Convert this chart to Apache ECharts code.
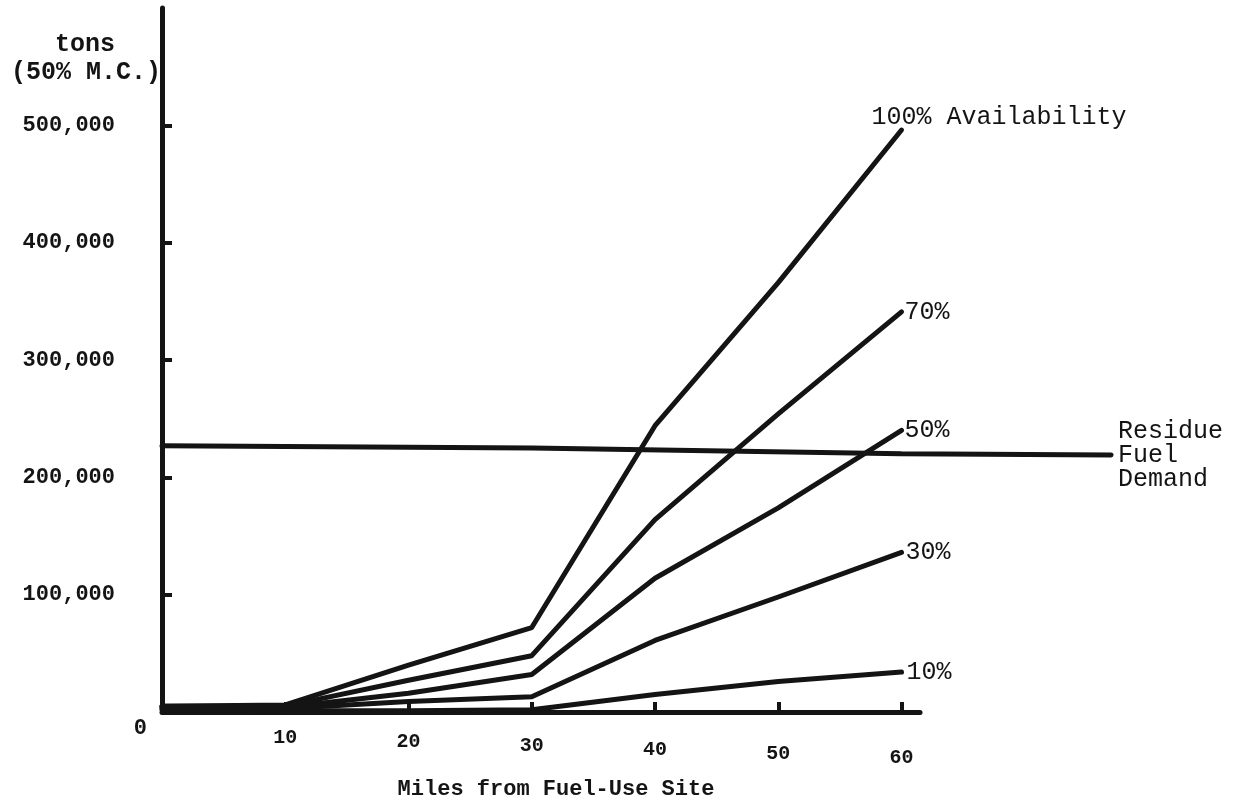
<!DOCTYPE html>
<html><head><meta charset="utf-8">
<script src="https://cdn.jsdelivr.net/npm/echarts@6/dist/echarts.min.js"></script>
<style>html,body{margin:0;padding:0;background:#fff}#c{width:1233px;height:809px}</style>
</head><body><div id="c"></div>
<script>
// ---- data ----
const miles = [0, 10, 20, 30, 40, 50, 60];
const avail100 = [5000, 6000, 40000, 72000, 244000, 366000, 496000];
const avail70 = [5000, 5000, 27000, 48000, 164000, 254000, 341000];
const avail50 = [4000, 4000, 16000, 32000, 114000, 174000, 240000];
const avail30 = [3000, 3000, 9000, 13000, 61000, 98000, 136000];
const avail10 = [2000, 1000, 1000, 2000, 15000, 26000, 34000];
const residueMiles = [0, 30, 60, 77];
const residueDemand = [227000, 225000, 220000, 219000];
const seriesNames = ['100% Availability', '70%', '50%', '30%', '10%'];
const residueName = 'Residue\nFuel\nDemand';
const xTicks = [10, 20, 30, 40, 50, 60];
const yTicks = [0, 100000, 200000, 300000, 400000, 500000];

const INK = '#141414';
const MONO = '"Liberation Mono", "DejaVu Sans Mono", monospace';

function pairs(xs, ys) { return xs.map((x, i) => [x, ys[i]]); }

// label placement per series: [distance, verticalAlign, padding]
const labelPlace = [
  [-30, 'bottom', [0, 0, 0, 0]],
  [3, 'middle', [18, 0, 0, 0]],
  [3, 'middle', [0, 0, 14, 0]],
  [4, 'middle', [0, 0, 0, 0]],
  [5, 'middle', [10, 0, 0, 0]]
];

const availData = [avail100, avail70, avail50, avail30, avail10];

const series = availData.map((vals, i) => ({
  name: seriesNames[i],
  type: 'line',
  xAxisIndex: 0, yAxisIndex: 0,
  data: pairs(miles, vals),
  symbol: 'none',
  lineStyle: { color: INK, width: 5, cap: 'round', join: 'round' },
  endLabel: {
    show: true,
    formatter: seriesNames[i],
    distance: labelPlace[i][0],
    align: 'left',
    verticalAlign: labelPlace[i][1],
    padding: labelPlace[i][2],
    fontFamily: MONO,
    fontSize: 25,
    color: INK
  },
  z: 3
}));

series.push({
  name: 'Residue Fuel Demand',
  type: 'line',
  xAxisIndex: 1, yAxisIndex: 1,
  data: pairs(residueMiles, residueDemand),
  symbol: 'none',
  lineStyle: { color: INK, width: 5, cap: 'round' },
  endLabel: {
    show: true,
    formatter: residueName,
    distance: 7,
    align: 'left',
    verticalAlign: 'middle',
    padding: [0, 0, 14, 0],
    lineHeight: 24,
    fontFamily: MONO,
    fontSize: 25,
    color: INK
  },
  z: 3
});

// second (invisible) grid shares the same scale but reaches further right
const X_MAX = 61.5, X_MAX2 = 77;
const plotLeft = 162, plotRight = 920;
const pxPerMile = (plotRight - plotLeft) / X_MAX;
const right2 = 1233 - (plotLeft + X_MAX2 * pxPerMile);

const xLabelRich = {};
xTicks.forEach((t, i) => {
  xLabelRich['t' + t] = { fontFamily: MONO, fontSize: 20, fontWeight: 'bold', color: INK, padding: [i * 4, 0, 0, 0] };
});

const chart = echarts.init(document.getElementById('c'), null, { renderer: 'canvas' });
chart.setOption({
  animation: false,
  backgroundColor: '#ffffff',
  title: [
    { text: 'tons', left: 50, top: 27, textStyle: { fontFamily: MONO, fontSize: 25, fontWeight: 'bold', color: INK } },
    { text: '(50% M.C.)', left: 6, top: 55, textStyle: { fontFamily: MONO, fontSize: 25, fontWeight: 'bold', color: INK } }
  ],
  grid: [
    { left: plotLeft, right: 1233 - plotRight, top: 8, bottom: 97, containLabel: false, outerBoundsMode: 'none' },
    { left: plotLeft, right: right2, top: 8, bottom: 97, containLabel: false, outerBoundsMode: 'none' }
  ],
  xAxis: [{
    gridIndex: 0,
    type: 'value', min: 0, max: X_MAX, interval: 10,
    splitLine: { show: false },
    axisLine: { show: true, onZero: false, lineStyle: { color: INK, width: 5, cap: 'round' } },
    axisTick: { show: true, inside: true, length: 10, customValues: xTicks, lineStyle: { color: INK, width: 4 } },
    axisLabel: {
      customValues: xTicks, margin: 16,
      formatter: v => (xTicks.indexOf(v) >= 0 ? '{t' + v + '|' + v + '}' : ''),
      rich: xLabelRich
    },
    name: 'Miles from Fuel-Use Site', nameLocation: 'middle', nameGap: 66,
    nameTextStyle: { fontFamily: MONO, fontSize: 22, fontWeight: 'bold', color: INK, padding: [0, 0, 0, 30] }
  }, {
    gridIndex: 1, type: 'value', min: 0, max: X_MAX2, show: false
  }],
  yAxis: [{
    gridIndex: 0,
    type: 'value', min: 0, max: 600000, interval: 100000,
    splitLine: { show: false },
    axisLine: { show: true, onZero: false, lineStyle: { color: INK, width: 5, cap: 'round' } },
    axisTick: { show: true, inside: true, length: 10, customValues: yTicks.slice(1), lineStyle: { color: INK, width: 4 } },
    axisLabel: {
      customValues: yTicks, margin: 15,
      formatter: v => v === 0 ? '{z|0}' : '{n|' + v.toLocaleString('en-US') + '}',
      rich: {
        n: { fontFamily: MONO, fontSize: 22, fontWeight: 'bold', color: INK, padding: [0, 32, 0, 0] },
        z: { fontFamily: MONO, fontSize: 22, fontWeight: 'bold', color: INK, padding: [32, 0, 0, 0] }
      }
    }
  }, {
    gridIndex: 1, type: 'value', min: 0, max: 600000, show: false
  }],
  series: series
});
</script>
</body></html>
